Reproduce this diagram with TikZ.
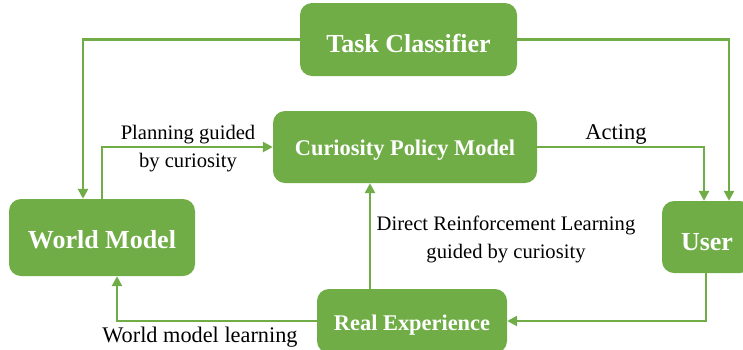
\documentclass[tikz,border=0pt]{standalone}
\usepackage{fontspec}
\setmainfont{Liberation Serif}
\usetikzlibrary{arrows.meta}
\definecolor{grn}{RGB}{112,173,71}
\begin{document}
\begin{tikzpicture}[x=1pt,y=-1pt,
  box/.style={fill=grn, rounded corners=12pt, text=white, font=\bfseries\fontsize{26}{30}\selectfont, inner sep=0pt, text depth=0pt},
  boxs/.style={box, font=\bfseries\fontsize{22.4}{26}\selectfont},
  lbl/.style={font=\fontsize{20.6}{27.5}\selectfont, align=center, inner sep=0pt, text=black},
  arr/.style={draw=grn, line width=2.5pt, -{Triangle[length=10pt,width=10pt]}},
  ln/.style={draw=grn, line width=2.5pt}
]
\useasboundingbox (0,0) rectangle (743,349);
\clip (0,0) rectangle (743,349);
\node[box, minimum width=217pt, minimum height=73pt, text height=26pt] (tc) at (408.5,39.5) {Task Classifier};
\node[boxs, minimum width=264pt, minimum height=72pt, text height=17.4pt] (cp) at (405,147) {Curiosity Policy Model};
\node[box, minimum width=186pt, minimum height=77pt, text height=21pt] (wm) at (102,237.5) {World Model};
\node[box, minimum width=90pt, minimum height=72pt, text height=26pt] (us) at (707,237) {User};
\node[boxs, minimum width=190pt, minimum height=64pt, text height=18pt] (re) at (412,321) {Real Experience};

\draw[arr] (tc.west) -| ([xshift=-19pt]wm.north);
\draw[arr] (tc.east) -| ([xshift=22pt]us.north);
\draw[arr] (wm.north) |- (cp.west);
\draw[arr] (cp.east) -| ([xshift=-3pt]us.north);
\coordinate (reup) at ([xshift=-42pt]re.north);
\draw[arr] (reup) -- (reup |- cp.south);
\draw[arr] ([xshift=-1pt]us.south) |- (re.east);
\draw[arr] (re.west) -| ([xshift=15pt]wm.south);

\node[lbl] (l1) at (188,148.5) {Planning guided\\by curiosity};
\node[lbl, font=\fontsize{22.5}{27}\selectfont] (l2) at (616,134) {Acting};
\node[lbl] (l3) at (506,239.5) {Direct Reinforcement Learning\\guided by curiosity};
\node[lbl, font=\fontsize{22.3}{27}\selectfont] (l4) at (200,337.5) {World model learning};
\end{tikzpicture}
\end{document}
